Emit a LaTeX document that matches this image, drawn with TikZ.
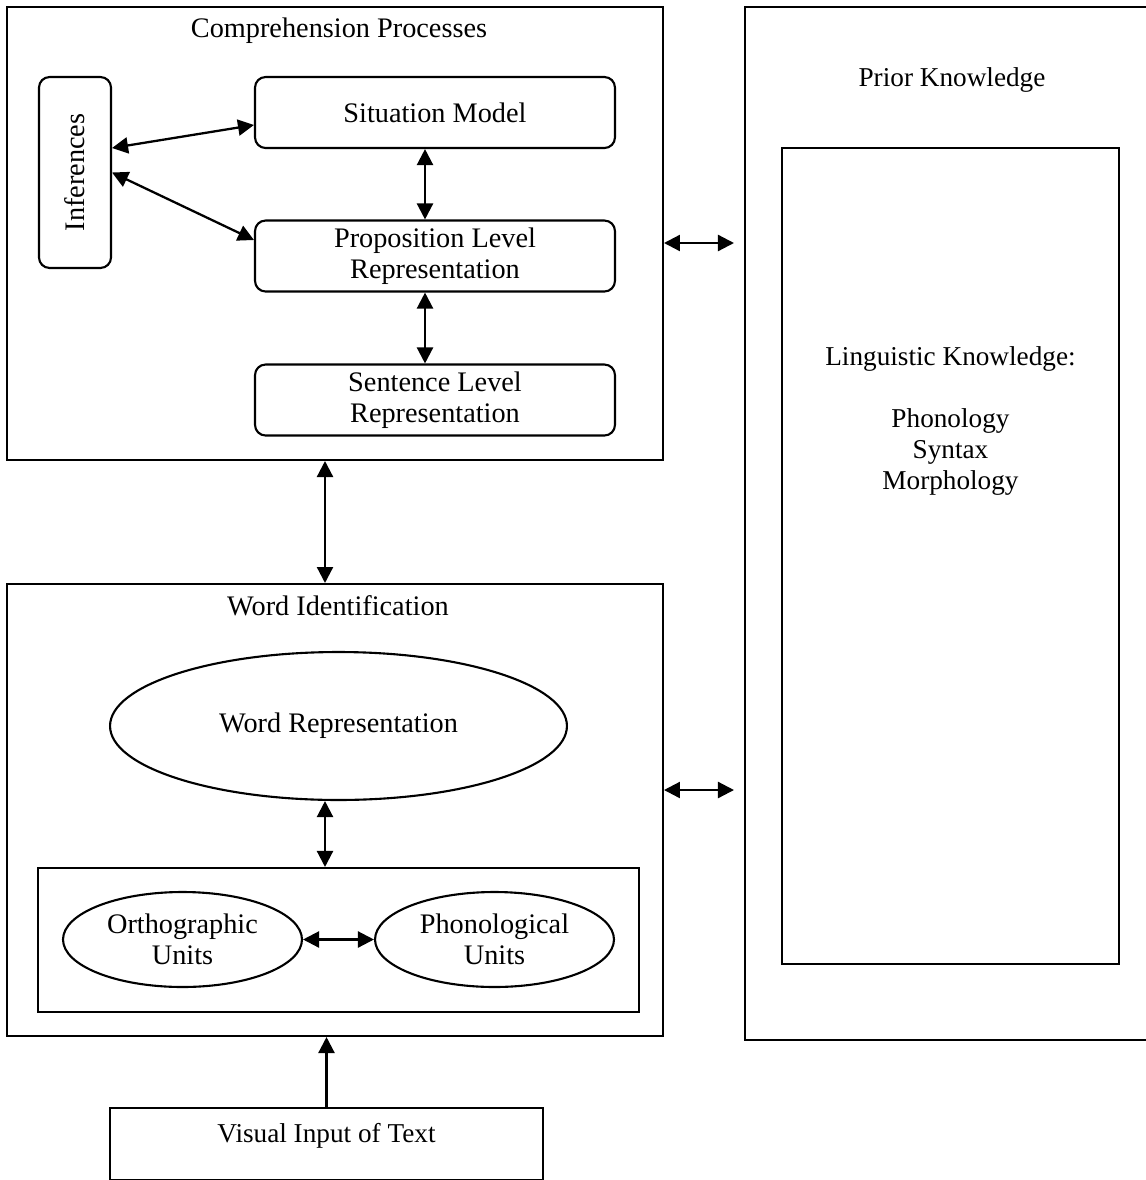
\documentclass[tikz,border=0pt]{standalone}
\usepackage{fontspec}
\setmainfont{Liberation Serif}
\usetikzlibrary{shapes.geometric, arrows.meta}

\begin{document}
\begin{tikzpicture}[x=0.02cm, y=-0.02cm,
    every node/.style={font=\fontsize{15.5}{17.6}\selectfont, align=center},
    big/.style={font=\fontsize{16.1}{17.6}\selectfont},
    frame/.style={draw, line width=1.2pt, inner sep=0pt},
    roundbox/.style={draw, line width=1.2pt, rounded corners=6pt, minimum width=7.2cm, minimum height=1.42cm, inner sep=2pt, big},
    oval/.style={draw, ellipse, line width=1.2pt, inner sep=0pt, big},
    link/.style={line width=1.3pt, {Triangle[length=0.32cm,width=0.32cm]}-{Triangle[length=0.32cm,width=0.32cm]}},
    feed/.style={line width=1.3pt, -{Triangle[length=0.32cm,width=0.32cm]}}
]
    \useasboundingbox (0,0) rectangle (1146,1180);

    % comprehension processes
    \node[frame, minimum width=13.12cm, minimum height=9.06cm] (comp) at (335,233.5) {};
    \node[big] (comptitle) at (339,31) {Comprehension Processes};
    \node[roundbox, rotate=90, minimum width=3.82cm, minimum height=1.44cm] (inf) at (75,172.5) {Inferences};
    \node[roundbox] (sit) at (435,112.5) {Situation Model};
    \node[roundbox] (prop) at (435,256) {Proposition Level\\Representation};
    \node[roundbox] (sent) at (435,400) {Sentence Level\\Representation};

    \draw[link] ([yshift=0.49cm]inf.south) -- ([yshift=-0.25cm]sit.west);
    \draw[link] (inf.south) -- ([yshift=0.32cm]prop.west);
    \draw[link] ([xshift=-0.2cm]sit.south) -- ([xshift=-0.2cm]prop.north);
    \draw[link] ([xshift=-0.2cm]prop.south) -- ([xshift=-0.2cm]sent.north);

    % word identification
    \node[frame, minimum width=13.12cm, minimum height=9.04cm] (word) at (335,810) {};
    \node[big] (wordtitle) at (338,606) {Word Identification};
    \node[oval, minimum width=9.14cm, minimum height=2.96cm] (wordrep) at (338.5,726) {Word Representation};
    \node[frame, minimum width=12.02cm, minimum height=2.88cm] (units) at (338.5,940) {};
    \node[oval, minimum width=4.78cm, minimum height=1.9cm] (ortho) at (182.5,939.5) {Orthographic\\Units};
    \node[oval, minimum width=4.78cm, minimum height=1.9cm] (phon) at (494.5,939.5) {Phonological\\Units};

    \draw[link] ([xshift=-0.27cm]wordrep.south) -- ([xshift=-0.27cm]units.north);
    \draw[link] (ortho.east) -- (phon.west);
    \draw[link] ([xshift=-0.2cm]comp.south) -- ([xshift=-0.2cm]word.north);

    % visual input
    \node[frame, minimum width=8.66cm, minimum height=1.44cm] (visual) at (326.5,1144) {};
    \node (visualtext) at (326.5,1136) {Visual Input of Text};
    \draw[feed] (visual.north) -- (visual.north |- word.south);

    % prior knowledge
    \node[frame, minimum width=8.2cm, minimum height=20.66cm] (prior) at (950,523.5) {};
    \node (priortitle) at (952,80) {Prior Knowledge};
    \node[frame, minimum width=6.74cm, minimum height=16.32cm] (ling) at (950.5,556) {};
    \node (lingtext) at (950.5,421) {Linguistic Knowledge:\\[17.6pt]Phonology\\Syntax\\Morphology};

    \coordinate (cpA) at ([yshift=-0.19cm]comp.east);
    \coordinate (cpB) at ([yshift=0.4cm]word.east);
    \draw[link, shorten >=0.2cm] (cpA) -- (cpA -| prior.west);
    \draw[link, shorten >=0.2cm] (cpB) -- (cpB -| prior.west);
\end{tikzpicture}
\end{document}
